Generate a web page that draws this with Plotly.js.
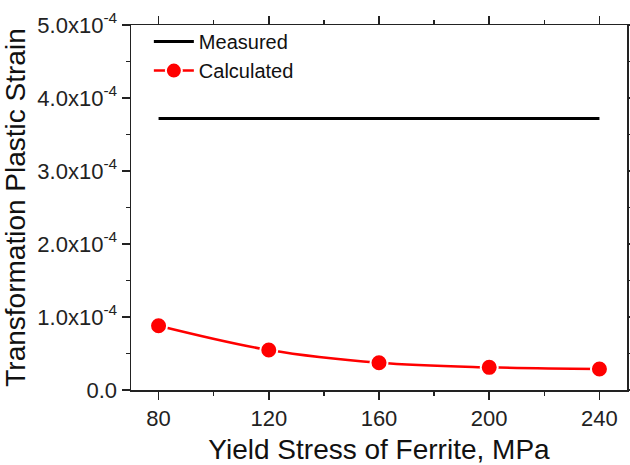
<!DOCTYPE html>
<html><head><meta charset="utf-8">
<script src="https://cdn.plot.ly/plotly-3.0.1.min.js"></script>
<style>body{margin:0;background:#fff}#c{width:630px;height:465px}</style>
</head><body><div id="c"></div>
<script>
const yieldStress = [80, 120, 160, 200, 240];
const calculated = [0.88e-4, 0.547e-4, 0.373e-4, 0.31e-4, 0.287e-4];
const measuredX = [80, 240];
const measured = [3.72e-4, 3.72e-4];
const yTickVals = [0, 1e-4, 2e-4, 3e-4, 4e-4, 5e-4];
const yTickText = ['0.0', '1.0x10<sup>-4</sup>', '2.0x10<sup>-4</sup>', '3.0x10<sup>-4</sup>', '4.0x10<sup>-4</sup>', '5.0x10<sup>-4</sup>'];
const xTickVals = [80, 120, 160, 200, 240];

const font = 'Liberation Sans, Arial, sans-serif';
const traces = [
  {x: measuredX, y: measured, name: 'Measured', mode: 'lines', line: {color: '#000', width: 3}},
  {x: yieldStress, y: calculated, name: 'Calculated', mode: 'lines+markers',
   line: {color: '#ff0000', width: 2.5, shape: 'spline'},
   marker: {color: '#ff0000', size: 17, line: {color: '#fff', width: 2}}}
];
const axisCommon = {showline: true, linecolor: '#222', linewidth: 1.5, mirror: 'ticks', ticks: 'outside',
  ticklen: 8, tickwidth: 1.5, tickcolor: '#222', showgrid: false, zeroline: false,
  tickfont: {family: font, size: 22, color: '#222'}};
const layout = {
  width: 630, height: 465,
  margin: {l: 131, r: 3, t: 25, b: 75},
  paper_bgcolor: '#fff', plot_bgcolor: '#fff',
  showlegend: true,
  legend: {x: 0.036, y: 1.008, xanchor: 'left', yanchor: 'top', bgcolor: 'rgba(0,0,0,0)',
    font: {family: font, size: 20, color: '#111'}, tracegroupgap: 0, itemwidth: 40},
  xaxis: Object.assign({}, axisCommon, {range: [70, 250], tickvals: xTickVals,
    minor: {ticks: 'outside', ticklen: 4, tickwidth: 1.5, tickcolor: '#222', dtick: 20, tick0: 0},
    title: {text: 'Yield Stress of Ferrite, MPa', font: {family: font, size: 28, color: '#111'}, standoff: 11}}),
  yaxis: Object.assign({}, axisCommon, {range: [0, 5e-4], tickvals: yTickVals, ticktext: yTickText,
    minor: {ticks: 'outside', ticklen: 4, tickwidth: 1.5, tickcolor: '#222', dtick: 0.5e-4, tick0: 0},
    title: {text: 'Transformation Plastic Strain', font: {family: font, size: 28, color: '#111'}, standoff: 6}})
};
Plotly.newPlot('c', traces, layout, {displayModeBar: false, staticPlot: true});
</script></body></html>
